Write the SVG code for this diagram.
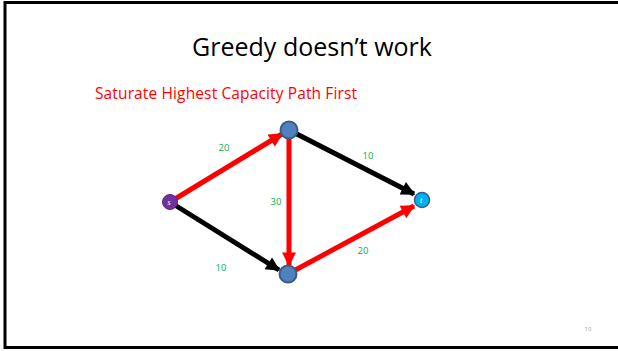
<svg xmlns="http://www.w3.org/2000/svg" width="618" height="351" viewBox="0 0 618 351">
<defs>
<style>
.e{stroke-width:5;fill:none}
.red{stroke:#FF0000}
.blk{stroke:#000000}
.lbl{font-family:"Open Sans","Liberation Sans",sans-serif;font-size:9.5px;fill:#00B050;text-anchor:middle}
.nd{fill:#4F81BD;stroke:#385D8A;stroke-width:2}
</style>
<marker id="ar" viewBox="0 0 10 10" refX="9" refY="5" markerWidth="3" markerHeight="2.8" orient="auto" markerUnits="strokeWidth"><path d="M0,0 L10,5 L0,10 z" fill="#FF0000"/></marker>
<marker id="ab" viewBox="0 0 10 10" refX="9" refY="5" markerWidth="3" markerHeight="2.8" orient="auto" markerUnits="strokeWidth"><path d="M0,0 L10,5 L0,10 z" fill="#000000"/></marker>
</defs>
<rect x="5" y="2.5" width="620" height="345" fill="#FFFFFF" stroke="#000000" stroke-width="3"/>
<text x="312" y="56" font-family="Open Sans,Liberation Sans,sans-serif" font-size="25" fill="#000000" text-anchor="middle">Greedy doesn’t work</text>
<text x="95" y="99" font-family="Open Sans,Liberation Sans,sans-serif" font-size="15.5" fill="#FF0000" textLength="262">Saturate Highest Capacity Path First</text>
<g id="connectors">
<line class="e blk" x1="170" y1="202" x2="279" y2="270" marker-end="url(#ab)"/>
<line class="e blk" x1="289" y1="130" x2="414" y2="194" marker-end="url(#ab)"/>
<line class="e red" x1="170" y1="202" x2="282" y2="134" marker-end="url(#ar)"/>
<line class="e red" x1="289" y1="135" x2="289" y2="265" marker-end="url(#ar)"/>
<line class="e red" x1="288" y1="274" x2="414" y2="206" marker-end="url(#ar)"/>
<text class="lbl" x="224" y="151">20</text>
<text class="lbl" x="276" y="205">30</text>
<text class="lbl" x="368" y="159">10</text>
<text class="lbl" x="363" y="254">20</text>
<text class="lbl" x="221" y="271">10</text>
</g>
<g id="s"><circle cx="170" cy="202" r="7.5" fill="#7030A0" stroke="#5A2585" stroke-width="1"/><text x="169" y="205" font-family="Liberation Serif,serif" font-style="italic" font-size="8" fill="#FFFFFF" text-anchor="middle">s</text></g>
<g id="a"><circle class="nd" cx="289" cy="130" r="8.5"/></g>
<g id="b"><circle class="nd" cx="288" cy="274" r="8.5"/></g>
<g id="t"><circle cx="422" cy="200" r="7.5" fill="#00B0F0" stroke="#385D8A" stroke-width="1.5"/><text x="421" y="203" font-family="Liberation Serif,serif" font-style="italic" font-size="8" fill="#FFFFFF" text-anchor="middle">t</text></g>
<text x="588" y="331" font-family="Open Sans,Liberation Sans,sans-serif" font-size="6" fill="#999999" text-anchor="middle">10</text>
</svg>
